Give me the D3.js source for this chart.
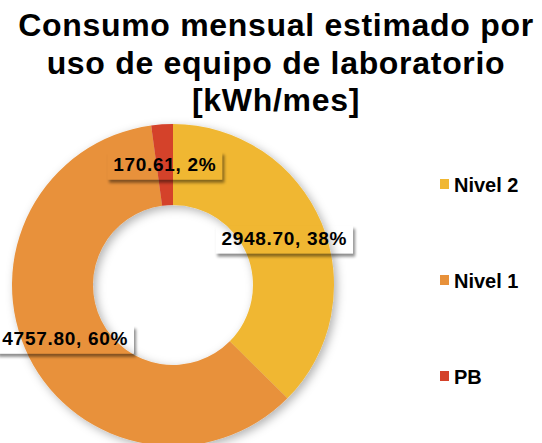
<!DOCTYPE html>
<html>
<head>
<meta charset="utf-8">
<script src="https://cdn.jsdelivr.net/npm/d3@7"></script>
<style>
  body { margin: 0; background: #fff; }
  svg { display: block; }
</style>
</head>
<body>
<svg width="542" height="443"></svg>
<script>
// data
const categories = ["Nivel 2", "Nivel 1", "PB"];
const values = [2948.70, 4757.80, 170.61];
const percents = ["38%", "60%", "2%"];
const titleLines = ["Consumo mensual estimado por", "uso de equipo de laboratorio", "[kWh/mes]"];
const colors = ["#F0B732", "#E8913A", "#D4422A"];

const svg = d3.select("svg");
const cx = 173, cy = 285, rOuter = 161, rInner = 80;

const defs = svg.append("defs");
defs.append("filter").attr("id", "ringShadow")
  .attr("x", "-20%").attr("y", "-20%").attr("width", "140%").attr("height", "140%")
  .append("feDropShadow")
  .attr("dx", 3).attr("dy", 3).attr("stdDeviation", 5)
  .attr("flood-color", "#000").attr("flood-opacity", 0.3);
defs.append("filter").attr("id", "boxBlur")
  .append("feGaussianBlur").attr("stdDeviation", 1.5);

// --- Title ---
svg.append("g").selectAll("text")
  .data(titleLines)
  .join("text")
  .attr("x", 276)
  .attr("y", (d, i) => 36 + i * 37.5)
  .attr("text-anchor", "middle")
  .style("font-family", "Liberation Sans, Arial, sans-serif")
  .style("font-weight", "bold")
  .style("font-size", "32px")
  .style("letter-spacing", "0.7px")
  .text(d => d);

// --- Donut ---
const pie = d3.pie().sort(null).value(d => d);
const arcs = pie(values);
const arc = d3.arc().innerRadius(rInner).outerRadius(rOuter);

const ring = svg.append("g")
  .attr("transform", `translate(${cx},${cy})`)
  .attr("filter", "url(#ringShadow)");
ring.selectAll("path")
  .data(arcs)
  .join("path")
  .attr("d", arc)
  .attr("fill", (d, i) => colors[i]);

// --- Data labels (at centroids, transparent box with shadow) ---
const labelG = svg.append("g").attr("transform", `translate(${cx},${cy})`);
arcs.forEach((d, i) => {
  const [lx, ly] = arc.centroid(d);
  const txt = `${d3.format(".2f")(values[i])}, ${percents[i]}`;
  const g = labelG.append("g").attr("transform", `translate(${lx},${ly})`);
  const t = g.append("text")
    .attr("text-anchor", "middle")
    .attr("dy", "0.35em")
    .style("font-family", "Liberation Sans, Arial, sans-serif")
    .style("font-weight", "bold")
    .style("font-size", "19px")
    .style("letter-spacing", "0.7px")
    .text(txt);
  const bb = t.node().getBBox();
  const bw = bb.width + 12, bh = 28;
  const bx = -bw / 2, by = -bh / 2 + 1;
  const maskId = "m" + i;
  const mask = defs.append("mask").attr("id", maskId)
    .attr("maskUnits", "userSpaceOnUse")
    .attr("x", cx + lx + bx - 20).attr("y", cy + ly + by - 20)
    .attr("width", bw + 40).attr("height", bh + 40);
  mask.append("rect")
    .attr("x", cx + lx + bx - 20).attr("y", cy + ly + by - 20)
    .attr("width", bw + 40).attr("height", bh + 40).attr("fill", "#fff");
  mask.append("rect")
    .attr("x", cx + lx + bx).attr("y", cy + ly + by)
    .attr("width", bw).attr("height", bh).attr("fill", "#000");
  // mask is in page coords; shadow goes in an untransformed group
  svg.insert("g", () => labelG.node())
    .attr("mask", `url(#${maskId})`)
    .append("rect")
    .attr("x", cx + lx + bx + 2).attr("y", cy + ly + by + 3)
    .attr("width", bw).attr("height", bh)
    .attr("fill", "#000").attr("opacity", 0.45)
    .attr("filter", "url(#boxBlur)");
});

// --- Legend ---
const legendY = d3.scalePoint().domain(categories).range([184, 376]);
const legend = svg.append("g").selectAll("g")
  .data(categories)
  .join("g")
  .attr("transform", d => `translate(440,${legendY(d)})`);
legend.append("rect")
  .attr("x", 0).attr("y", -5)
  .attr("width", 9).attr("height", 10)
  .attr("fill", (d, i) => colors[i]);
legend.append("text")
  .attr("x", 14).attr("y", 7.5)
  .style("font-family", "Liberation Sans, Arial, sans-serif")
  .style("font-weight", "bold")
  .style("font-size", "20px")
  .text(d => d);
</script>
</body>
</html>
